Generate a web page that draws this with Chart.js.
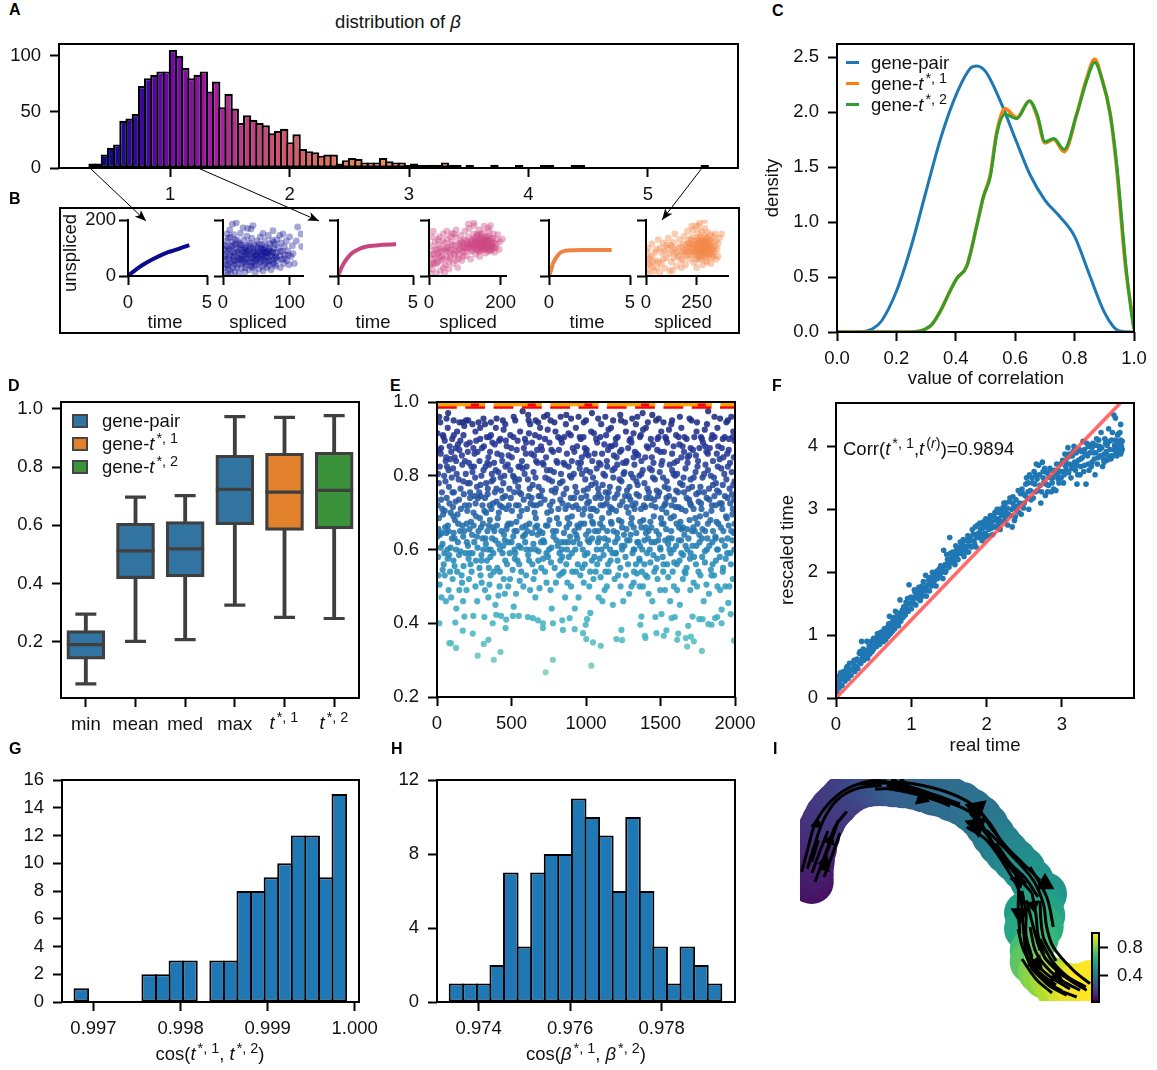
<!DOCTYPE html>
<html>
<head>
<meta charset="utf-8">
<script src="https://cdn.jsdelivr.net/npm/chart.js@4"></script>
<style>
  html, body { margin: 0; background: #fff; }
  #page { position: relative; width: 1157px; height: 1070px; overflow: hidden; font-family: "Liberation Sans", Arial, sans-serif; color: #111; }
  canvas { position: absolute; }
  .t { position: absolute; white-space: nowrap; font-size: 18.5px; line-height: 1; transform: translate(-50%, -50%); }
  .t.left { transform: translate(0, -50%); }
  .t.rot { transform: translate(-50%, -50%) rotate(-90deg); }
  .t.letter { font-weight: bold; font-size: 16px; transform: translate(0, -50%); color: #000; }
  .t sup { font-size: 78%; line-height: 0; vertical-align: baseline; position: relative; top: -0.5em; margin-left: 2px; }
  .swatch { position: absolute; }
  #frameB { position: absolute; left: 59px; top: 207px; width: 677px; height: 123px; border: 2px solid #000; }
  svg { position: absolute; left: 0; top: 0; }
</style>
</head>
<body>
<div id="page">
  <div id="frameB"></div>
</div>
<script>
// ---- panel A
const betaBinStart = 0.325;
const betaBinWidth = 0.05176;
const betaCounts = [4,4,12,18,21,42,44,48,73,80,83,86,86,105,100,89,80,83,86,68,
  77,54,66,53,40,47,43,40,38,31,33,35,23,30,17,15,14,11,12,12,
  4,7,9,8,5,5,5,9,6,5,5,1,4,1,1,3,1,5,3,1,
  0,1,0,0,0,3,0,0,0,1,0,0,0,1,1,0,0,0,1,1,
  0,0,0,0,0,0,0,0,0,0,0,0,0,0,0,0,0,0,0,1];
const betaTicks = [1,2,3,4,5];
const betaCountTicks = [0,50,100];

// ---- panel B
const time1 = [0,0.5,1,1.5,2,2.5,3,3.5,3.88];
const unspliced1 = [0,23,42,58,72,84,93,103,110];
const time2 = [0,0.25,0.5,0.75,1,1.5,2,2.5,3,3.87];
const unspliced2 = [0,32,55,72,84,99,106,109,112,113];
const time3 = [0,0.1,0.25,0.5,0.75,1,1.5,2,3,3.87];
const unspliced3 = [0,15,45,70,85,90,92,93,93,93];
const cloud1 = [[3,12],[5,40],[4,78],[6,105],[8,25],[9,62],[8,135],[10,165],[12,8],[13,48],[12,92],[14,120],[15,30],[16,70],[16,148],[18,15],[19,55],[20,100],[21,128],[22,40],[23,82],[24,10],[25,62],[26,112],[26,152],[28,28],[29,92],[30,50],[31,128],[32,72],[33,14],[34,105],[35,40],[36,142],[37,62],[38,88],[39,22],[40,118],[41,48],[42,76],[43,135],[44,30],[45,98],[46,60],[47,112],[48,12],[49,80],[50,40],[51,125],[52,65],[53,100],[54,25],[55,85],[56,140],[57,52],[58,110],[59,72],[60,18],[61,92],[62,42],[63,125],[64,68],[65,105],[66,30],[67,82],[68,145],[69,55],[70,115],[71,90],[72,22],[73,70],[74,128],[75,45],[76,98],[77,62],[78,112],[79,35],[80,82],[81,130],[82,55],[83,100],[85,72],[86,30],[87,118],[88,60],[89,88],[90,150],[91,45],[92,105],[93,75],[95,125],[96,55],[97,90],[99,40],[100,140],[102,70],[104,108],[105,80],[107,45],[110,125],[112,175],[117,150],[118,105],[20,190],[37,170],[42,168],[60,152],[45,180],[75,162],[14,185],[30,172],[85,145],[6,150],[2,95],[2,60],[2,30],[7,4],[11,140],[18,80],[27,75],[33,50],[47,35],[58,95],[67,50],[6,88],[10,72],[15,108],[22,65],[28,110],[35,85],[41,102],[48,52],[55,115],[62,85],[69,100],[76,120],
  [4,55],[7,38],[9,95],[11,22],[13,70],[15,85],[17,42],[19,112],[21,30],[23,58],[25,95],[27,45],[29,70],[31,100],[33,30],[34,62],[36,78],[38,50],[40,95],[42,35],[43,65],[45,85],[47,72],[49,105],[50,58],[52,90],[54,48],[56,72],[57,100],[59,35],[60,60],[62,100],[64,52],[65,82],[67,68],[69,38],[71,75],[73,55],[75,85],[77,42],[79,70],[64,85],[58,80],[52,78],[46,88],[40,72],[34,92],[28,58],[22,88],[16,55],[10,48],[3,70],[3,110],[5,125],[12,108],[24,118],[18,130],[32,85],[38,110],[44,50],[50,72],[56,60],[62,70],[68,90],[74,85],[80,65],[86,88],[92,62],[98,75]];
const cloud2 = [[3,10],[4,40],[5,75],[6,108],[10,25],[12,60],[15,92],[17,122],[20,8],[22,45],[24,78],[26,110],[28,140],[32,20],[34,55],[36,90],[38,125],[40,150],[44,12],[46,38],[48,70],[50,100],[52,132],[56,25],[58,62],[60,92],[62,120],[64,152],[68,45],[70,80],[72,108],[74,138],[76,165],[80,30],[82,62],[84,95],[86,118],[88,145],[92,55],[94,85],[96,108],[98,130],[100,160],[104,72],[106,98],[108,118],[110,140],[112,170],[116,60],[118,88],[120,105],[122,125],[124,150],[126,180],[130,78],[132,96],[134,112],[136,128],[138,145],[140,165],[142,70],[144,90],[146,105],[148,120],[150,135],[152,155],[154,178],[158,82],[160,98],[162,112],[164,125],[166,142],[168,160],[172,90],[174,105],[176,118],[178,135],[180,150],[184,85],[186,102],[188,115],[190,130],[192,148],[196,95],[198,122],[205,132],[110,185],[125,190],[165,172],[172,180],[130,110],[135,100],[140,118],[145,130],[150,110],[155,120],[160,130],[128,122],[122,105],[118,128],[138,88],[148,95],[158,140],[168,105],[178,100],[115,112],[125,135],[135,150],[145,150],[155,100],[165,88],[175,125],[60,140],[70,150],[55,50],[85,75],[95,70],[105,125],[30,70],[25,130],[15,45],[8,140],[12,160],[42,95],[50,160],[90,125],[100,100],[40,30],[75,55],
  [112,100],[116,118],[120,92],[124,112],[127,100],[129,130],[132,118],[134,142],[136,92],[138,108],[140,130],[142,100],[144,120],[146,140],[148,108],[150,125],[152,95],[154,112],[156,130],[158,100],[160,118],[162,138],[164,108],[166,95],[168,125],[170,112],[172,135],[174,92],[176,108],[180,118],[182,100],[110,108],[106,115],[102,88],[98,100],[94,118],[90,105],[86,95],[80,115],[76,90],[72,75],[68,95],[64,110],[60,70],[56,85],[52,105],[48,90],[44,118],[40,60],[36,70],[32,100],[28,85],[24,50],[20,95],[18,65],[12,80],[8,45]];
const cloud3 = [[5,20],[8,60],[10,100],[15,8],[22,40],[28,72],[30,115],[40,18],[48,55],[52,95],[60,130],[68,12],[75,45],[80,82],[85,118],[92,28],[100,65],[105,100],[110,135],[118,18],[125,50],[130,85],[135,120],[142,150],[150,35],[155,70],[160,100],[165,130],[172,55],[178,85],[182,115],[188,142],[195,40],[200,72],[205,102],[210,128],[215,60],[220,88],[225,112],[228,140],[232,165],[236,48],[240,75],[244,95],[248,115],[252,135],[255,155],[258,180],[262,60],[265,82],[268,100],[270,118],[272,138],[275,160],[278,70],[280,90],[283,108],[286,125],[288,145],[290,170],[294,55],[296,78],[298,98],[300,115],[302,135],[305,155],[308,75],[310,92],[313,110],[316,128],[318,148],[322,65],[325,88],[328,105],[330,122],[333,142],[338,85],[342,105],[345,125],[350,95],[355,115],[362,135],[372,150],[205,160],[225,178],[245,178],[265,190],[288,198],[240,125],[250,90],[260,120],[270,85],[280,125],[290,105],[300,85],[310,130],[275,105],[285,75],[295,135],[265,140],[255,100],[245,60],[235,100],[225,75],[215,115],[255,70],[270,60],[315,80],[330,70],[120,110],[140,95],[90,90],[70,100],[55,30],[35,50],[175,30],[130,20],[190,95],[340,150],[355,70],[320,45],[280,40],[250,30],[300,50],[345,60],
  [242,105],[246,85],[250,110],[254,128],[258,92],[260,75],[262,108],[264,125],[266,92],[268,70],[272,110],[274,95],[276,125],[278,85],[280,110],[282,95],[284,118],[286,85],[288,105],[290,125],[292,92],[294,112],[296,70],[298,125],[302,100],[304,80],[306,115],[310,105],[314,95],[318,118],[322,100],[326,78],[332,95],[238,85],[232,115],[228,95],[222,130],[218,100],[212,80],[208,118],[202,90],[196,110],[192,78],[186,90],[180,60],[170,105],[162,75],[148,85],[138,65],[128,105],[115,80],[100,110],[85,60],[62,50],[45,85],[30,30],[20,65],[12,45],[6,85]];

// ---- panel C
const corrXPair = [0,0.05,0.1,0.12,0.15,0.2,0.25,0.3,0.35,0.4,0.45,0.47,0.5,0.55,0.6,0.65,0.7,0.75,0.8,0.85,0.9,0.93,0.95,1];
const corrPair = [0,0,0.01,0.03,0.1,0.37,0.78,1.28,1.77,2.15,2.4,2.42,2.37,2.1,1.76,1.43,1.2,1.05,0.87,0.52,0.18,0.05,0.01,0];
const corrXTime = [0,0.2,0.25,0.28,0.3,0.32,0.35,0.38,0.404,0.437,0.47,0.493,0.516,0.538,0.566,0.605,0.648,0.675,0.7,0.73,0.765,0.807,0.84,0.868,0.89,0.92,0.942,0.972,0.998,1];
const corrTime1 = [0,0,0,0.01,0.03,0.07,0.2,0.37,0.49,0.6,0.96,1.23,1.43,1.82,2.03,1.95,2.1,1.95,1.72,1.75,1.64,1.98,2.3,2.48,2.32,1.98,1.48,0.58,0.08,0.03];
const corrTime2 = [0,0,0,0.01,0.03,0.07,0.2,0.37,0.49,0.6,0.96,1.23,1.41,1.8,1.98,1.94,2.1,1.97,1.73,1.76,1.66,1.98,2.28,2.45,2.32,1.98,1.52,0.62,0.05,0.03];
const corrTicks = [0,0.2,0.4,0.6,0.8,1];
const densityTicks = [0,0.5,1,1.5,2,2.5];

// ---- panel D
const boxLabels = ['min','mean','med','max','t1','t2'];
const boxLow = [0.055,0.201,0.207,0.326,0.284,0.28];
const boxQ1 = [0.14,0.417,0.423,0.602,0.583,0.588];
const boxMedian = [0.19,0.512,0.519,0.724,0.714,0.72];
const boxQ3 = [0.238,0.607,0.613,0.841,0.848,0.851];
const boxHigh = [0.295,0.697,0.702,0.974,0.971,0.977];
const boxColors = ['#3274a1','#3274a1','#3274a1','#3274a1','#e1812c','#3a923a'];
const boxTicks = [0.2,0.4,0.6,0.8,1];

// ---- panel E
const corrPoints = [[16,.40],[83,.346],[94,.346],[128,.333],[273,.312],[381,.301],[426,.322],[345,.355],[314,.344],[729,.267],[778,.301],[1036,.285],[1099,.339],[1047,.348],[1002,.357],[980,.373],[1238,.382],[1204,.357],[1242,.354],[1395,.366],[1399,.36],[1473,.373],[1522,.366],[1540,.381],[1612,.355],[1619,.372],[1670,.36],[1679,.337],[1704,.364],[1724,.351],[1778,.325],[1993,.353],
[184,.418],[244,.42],[240,.372],[173,.38],[123,.402],[318,.417],[374,.4],[397,.423],[430,.42],[464,.41],[509,.42],[460,.387],[549,.42],[610,.417],[643,.414],[677,.408],[711,.4],[711,.387],[778,.4],[841,.408],[890,.414],[845,.382],[924,.384],[998,.396],[1007,.411],[1029,.428],[1372,.418],[1365,.396],[1466,.417],[1507,.425],[1574,.414],[1596,.417],[1686,.393],[1715,.418],[1760,.411],[1782,.411],[1821,.398],[1843,.396],[1866,.414],[1881,.417],[1910,.4],[1971,.425],[1955,.455],[1910,.437],
[10,.53],[30,.47],[60,.46],[95,.47],[130,.44],[150,.49],[175,.46],[215,.52],[270,.46],[300,.51],[345,.47],[360,.53],[392,.45],[420,.5],[455,.48],[490,.52],[515,.445],[530,.48],[580,.5],[625,.49],[660,.47],[735,.51],[770,.44],[820,.53],[860,.47],[900,.5],[925,.44],[950,.47],[985,.51],[1050,.52],[1085,.47],[1110,.46],[1140,.5],[1180,.45],[1215,.53],[1250,.46],[1290,.48],[1320,.51],[1360,.5],[1400,.53],[1420,.48],[1445,.46],[1480,.52],[1530,.49],[1565,.46],[1590,.5],[1630,.45],[1650,.52],[1700,.49],[1745,.5],[1790,.46],[1825,.48],[1860,.53],[1900,.49],[1935,.5],[1985,.52],
[8,.58],[45,.56],[70,.6],[88,.54],[110,.57],[140,.62],[165,.53],[190,.59],[225,.56],[250,.62],[285,.55],[310,.6],[335,.57],[370,.63],[405,.55],[440,.59],[470,.56],[500,.62],[540,.57],[565,.54],[600,.6],[640,.56],[675,.64],[700,.55],[745,.58],[790,.55],[810,.61],[850,.54],[885,.58],[915,.62],[945,.56],[975,.55],[1010,.59],[1040,.63],[1075,.56],[1105,.6],[1130,.54],[1165,.57],[1195,.62],[1230,.55],[1265,.58],[1300,.64],[1335,.56],[1375,.54],[1410,.59],[1440,.62],[1470,.55],[1500,.6],[1545,.56],[1575,.63],[1610,.56],[1640,.59],[1675,.55],[1715,.61],[1755,.54],[1780,.58],[1815,.63],[1850,.56],[1885,.6],[1920,.55],[1950,.63],[1995,.6],
[20,.64],[55,.66],[100,.63],[120,.68],[155,.65],[200,.67],[235,.64],[262,.69],[295,.66],[325,.63],[355,.68],[385,.65],[415,.7],[450,.64],[480,.67],[520,.65],[555,.69],[590,.64],[620,.67],[655,.7],[690,.65],[720,.62],[755,.68],[800,.65],[835,.62],[870,.66],[905,.69],[935,.64],[965,.67],[1000,.64],[1030,.69],[1060,.65],[1095,.67],[1125,.63],[1155,.7],[1185,.65],[1220,.68],[1255,.64],[1285,.7],[1320,.66],[1350,.62],[1385,.68],[1420,.65],[1455,.69],[1490,.64],[1520,.67],[1555,.63],[1590,.69],[1625,.66],[1660,.64],[1695,.68],[1730,.65],[1765,.69],[1800,.65],[1835,.68],[1870,.63],[1905,.66],[1940,.69],[1975,.65],[1998,.67],
[5,.72],[35,.71],[65,.74],[92,.7],[125,.73],[160,.71],[180,.75],[215,.72],[245,.7],[275,.74],[305,.72],[340,.75],[365,.71],[400,.73],[430,.76],[465,.71],[495,.74],[530,.72],[565,.75],[605,.71],[635,.74],[670,.72],[705,.76],[740,.7],[775,.73],[815,.71],[850,.75],[880,.72],[920,.74],[950,.71],[985,.76],[1020,.73],[1050,.71],[1085,.75],[1115,.72],[1145,.74],[1175,.71],[1210,.75],[1245,.73],[1275,.76],[1310,.72],[1340,.75],[1370,.71],[1405,.74],[1440,.72],[1475,.76],[1510,.71],[1540,.74],[1575,.72],[1605,.76],[1640,.71],[1675,.74],[1705,.72],[1740,.75],[1775,.71],[1810,.74],[1845,.72],[1880,.76],[1915,.71],[1950,.74],[1985,.71],
[12,.78],[48,.8],[80,.77],[108,.82],[145,.79],[170,.83],[205,.78],[238,.81],[268,.77],[298,.8],[330,.78],[350,.83],[378,.79],[412,.81],[445,.78],[475,.83],[510,.8],[545,.77],[575,.82],[610,.79],[648,.81],[682,.77],[715,.83],[750,.79],[785,.81],[825,.78],[858,.83],[892,.8],[928,.77],[958,.82],[995,.79],[1028,.81],[1065,.78],[1098,.83],[1128,.8],[1160,.77],[1192,.82],[1225,.79],[1258,.81],[1292,.77],[1325,.83],[1358,.8],[1392,.78],[1428,.82],[1462,.79],[1495,.81],[1528,.77],[1562,.83],[1598,.8],[1632,.78],[1668,.82],[1702,.79],[1735,.81],[1768,.77],[1802,.83],[1838,.8],[1872,.78],[1908,.82],[1942,.79],[1978,.81],
[25,.86],[58,.84],[85,.88],[118,.85],[150,.87],[188,.84],[220,.89],[252,.86],[285,.84],[315,.88],[345,.85],[372,.89],[405,.86],[438,.84],[468,.88],[502,.85],[535,.87],[570,.84],[598,.89],[632,.86],[665,.84],[698,.88],[732,.85],[768,.87],[802,.84],[838,.89],[872,.86],[905,.84],[940,.88],[972,.85],[1005,.87],[1042,.84],[1075,.89],[1108,.86],[1140,.84],[1172,.88],[1205,.85],[1238,.87],[1272,.84],[1305,.89],[1338,.86],[1372,.84],[1408,.88],[1442,.85],[1478,.87],[1512,.84],[1545,.89],[1578,.86],[1612,.84],[1648,.88],[1682,.85],[1718,.87],[1752,.84],[1785,.89],[1818,.86],[1852,.84],[1888,.88],[1922,.85],[1958,.87],[1992,.85],
[40,.91],[72,.93],[102,.9],[135,.92],[178,.91],[210,.95],[258,.92],[290,.9],[322,.94],[362,.91],[395,.93],[425,.9],[458,.94],[492,.91],[525,.95],[558,.92],[590,.9],[625,.94],[658,.91],[692,.93],[725,.9],[762,.95],[795,.92],[830,.9],[865,.94],[898,.91],[932,.93],[965,.9],[1000,.95],[1035,.92],[1068,.9],[1102,.94],[1135,.91],[1168,.93],[1200,.9],[1235,.95],[1268,.92],[1300,.9],[1335,.94],[1368,.91],[1402,.93],[1435,.9],[1470,.95],[1505,.92],[1538,.9],[1572,.94],[1605,.91],[1640,.93],[1675,.9],[1708,.95],[1742,.92],[1778,.9],[1812,.94],[1848,.91],[1882,.93],[1918,.9],[1952,.95],[1988,.92],
[15,.96],[75,.97],[150,.945],[195,.95],[290,.93],[400,.955],[575,.975],[615,.95],[680,.945],[740,.965],[830,.96],[900,.955],[950,.96],[1040,.97],[1130,.96],[1230,.965],[1310,.955],[1380,.97],[1445,.965],[1520,.945],[1630,.96],[1820,.975],[1900,.955],[1975,.96]];
const corrPointsMore = [[3,.915],[28,.875],[52,.895],[67,.825],[96,.865],[113,.91],[141,.885],[167,.855],[183,.935],[207,.865],[231,.825],[263,.895],[279,.945],[302,.875],[326,.825],[351,.905],[383,.835],[417,.895],[447,.925],[481,.855],[513,.905],[547,.825],[583,.875],[617,.915],[651,.855],[687,.905],[709,.835],[743,.925],[779,.865],[813,.905],[849,.835],[883,.915],[911,.875],[947,.835],[983,.905],[1017,.855],[1053,.915],[1087,.835],[1123,.885],[1151,.925],[1187,.855],[1213,.905],[1249,.835],[1283,.875],[1319,.915],[1351,.855],[1383,.925],[1417,.875],[1453,.835],[1487,.905],[1523,.865],[1557,.925],[1593,.835],[1627,.885],[1661,.905],[1693,.855],[1727,.905],[1761,.875],[1797,.925],[1831,.875],[1863,.905],[1897,.845],[1931,.905],[1967,.835],[1996,.895],
[7,.805],[33,.755],[57,.785],[78,.815],[104,.755],[132,.805],[158,.765],[193,.805],[222,.755],[256,.795],[283,.755],[312,.815],[341,.765],[368,.805],[399,.765],[427,.795],[459,.825],[486,.765],[518,.795],[552,.755],[588,.805],[622,.765],[661,.795],[696,.745],[727,.795],[762,.815],[797,.765],[832,.805],[868,.765],[902,.795],[937,.755],[973,.805],[1012,.765],[1047,.795],[1082,.765],[1117,.805],[1152,.755],[1183,.795],[1219,.765],[1252,.805],[1287,.745],[1316,.795],[1347,.775],[1381,.815],[1413,.765],[1449,.795],[1484,.745],[1517,.795],[1552,.765],[1587,.805],[1618,.755],[1655,.795],[1688,.765],[1723,.795],[1757,.755],[1793,.805],[1826,.765],[1859,.795],[1893,.755],[1928,.805],[1964,.765],[1997,.785],
[13,.685],[41,.695],[73,.665],[107,.715],[138,.695],[171,.665],[203,.705],[228,.675],[259,.725],[288,.685],[318,.705],[347,.665],[376,.725],[408,.685],[437,.715],[472,.665],[503,.705],[533,.675],[568,.705],[597,.665],[628,.725],[663,.685],[695,.725],[731,.665],[766,.705],[805,.685],[842,.725],[877,.685],[912,.715],[942,.665],[978,.695],[1008,.725],[1042,.675],[1072,.705],[1108,.685],[1138,.725],[1168,.675],[1202,.705],[1238,.675],[1272,.715],[1307,.685],[1332,.725],[1364,.675],[1398,.715],[1432,.675],[1468,.715],[1503,.685],[1534,.725],[1568,.685],[1602,.715],[1634,.675],[1668,.705],[1699,.725],[1733,.685],[1772,.725],[1806,.695],[1842,.705],[1876,.675],[1911,.725],[1945,.685],[1982,.695],
[3,.635],[37,.615],[63,.645],[91,.605],[118,.63],[148,.585],[176,.635],[208,.61],[238,.59],[268,.635],[298,.585],[328,.615],[358,.58],[392,.625],[422,.6],[455,.625],[488,.59],[512,.635],[548,.61],[578,.635],[612,.585],[647,.615],[682,.595],[712,.625],[752,.6],[782,.635],[822,.59],[858,.62],[893,.635],[928,.6],[958,.615],[992,.585],[1022,.62],[1056,.58],[1088,.63],[1118,.585],[1148,.625],[1178,.59],[1212,.63],[1242,.6],[1276,.625],[1312,.59],[1344,.62],[1378,.6],[1416,.63],[1452,.585],[1485,.625],[1515,.58],[1552,.615],[1588,.6],[1622,.625],[1652,.585],[1688,.63],[1725,.58],[1762,.62],[1798,.595],[1828,.61],[1868,.635],[1898,.58],[1932,.61],[1968,.59],
[18,.505],[52,.53],[78,.49],[105,.52],[135,.54],[168,.51],[198,.49],[232,.54],[258,.5],[292,.53],[322,.49],[352,.505],[382,.54],[412,.475],[448,.52],[478,.5],[508,.545],[555,.515],[598,.53],[648,.52],[688,.495],[725,.54],[762,.49],[798,.51],[838,.535],[875,.51],[908,.54],[962,.53],[1022,.5],[1065,.54],[1098,.525],[1125,.49],[1152,.54],[1192,.52],[1232,.5],[1268,.53],[1305,.5],[1342,.535],[1382,.5],[1412,.525],[1458,.54],[1498,.49],[1552,.525],[1582,.54],[1612,.49],[1668,.535],[1722,.51],[1768,.53],[1808,.505],[1842,.53],[1882,.5],[1918,.54],[1962,.5],
[22,.945],[64,.955],[112,.95],[172,.945],[238,.94],[312,.955],[362,.945],[442,.95],[515,.96],[612,.965],[662,.95],[718,.96],[788,.945],[868,.965],[985,.945],[1082,.955],[1182,.95],[1262,.945],[1345,.96],[1415,.945],[1488,.955],[1578,.95],[1695,.955],[1745,.945],[1862,.96],[1942,.945],
[220,.78],[440,.74],[660,.66],[880,.62],[1100,.74],[1320,.6],[1540,.7],[1760,.64],[1980,.75],[110,.69],[330,.7],[550,.79],[770,.76],[990,.71],[1210,.83],[1430,.74],[1650,.66],[1870,.72],[1000,.86],[1160,.88],[1320,.85],[1480,.9],[1640,.85],[1800,.88],[1960,.9],[1080,.62],[1240,.61],[1400,.66],[1560,.6],[1720,.66],[1880,.6],[200,.62],[360,.6],[520,.6],[680,.57],[840,.58],[1040,.57],[1200,.59],[1360,.57],[1520,.56],[1680,.6]];
const corrPointsDense = [[14,.87],[44,.905],[89,.845],[126,.875],[157,.895],[198,.885],[244,.875],[272,.865],[334,.905],[356,.865],[388,.885],[433,.855],[462,.895],[498,.875],[541,.895],[596,.86],[638,.89],[672,.87],[704,.87],[755,.89],[818,.87],[854,.905],[922,.865],[958,.905],[992,.875],[1058,.86],[1096,.905],[1148,.87],[1196,.885],[1228,.865],[1292,.895],[1328,.865],[1362,.905],[1398,.85],[1448,.885],[1498,.865],[1532,.905],[1588,.88],[1622,.905],[1658,.865],[1702,.875],[1738,.855],[1772,.905],[1808,.865],[1842,.9],[1878,.86],[1912,.875],[1948,.86],[1984,.905],
[19,.825],[62,.85],[99,.795],[128,.84],[176,.785],[214,.835],[248,.825],[292,.775],[338,.835],[366,.785],[394,.815],[452,.8],[492,.815],[526,.785],[558,.825],[602,.825],[642,.775],[674,.835],[738,.815],[772,.785],[808,.835],[842,.785],[884,.825],[918,.805],[966,.835],[1002,.815],[1036,.775],[1072,.82],[1112,.775],[1142,.825],[1178,.815],[1238,.785],[1268,.835],[1302,.805],[1338,.785],[1372,.805],[1442,.815],[1506,.83],[1542,.785],[1578,.815],[1612,.805],[1648,.775],[1682,.835],[1712,.77],[1748,.825],[1782,.795],[1818,.815],[1852,.775],[1884,.825],[1918,.775],[1952,.825],[1988,.775],
[27,.735],[52,.705],[84,.725],[114,.755],[148,.735],[188,.72],[222,.74],[252,.745],[292,.745],[322,.74],[354,.72],[388,.755],[422,.72],[458,.745],[482,.72],[518,.755],[548,.72],[582,.735],[614,.745],[648,.72],[682,.745],[722,.735],[758,.72],[792,.755],[828,.735],[862,.71],[898,.74],[934,.72],[968,.74],[1002,.745],[1032,.71],[1064,.74],[1098,.72],[1132,.755],[1162,.715],[1192,.74],[1228,.72],[1262,.745],[1298,.735],[1326,.71],[1356,.745],[1388,.72],[1422,.755],[1458,.735],[1492,.755],[1526,.72],[1558,.745],[1592,.735],[1622,.715],[1658,.755],[1692,.735],[1722,.71],[1756,.73],[1792,.755],[1828,.735],[1862,.745],[1898,.725],[1932,.745],[1968,.725],[1994,.735],
[10,.655],[32,.645],[78,.65],[112,.645],[142,.67],[183,.65],[218,.655],[246,.665],[278,.65],[308,.67],[338,.65],[372,.66],[402,.665],[432,.65],[466,.655],[498,.67],[535,.65],[572,.66],[606,.65],[638,.645],[672,.665],[708,.645],[742,.665],[778,.65],[818,.67],[852,.645],[888,.67],[922,.65],[952,.66],[988,.67],[1018,.65],[1048,.67],[1082,.65],[1112,.66],[1142,.65],[1172,.67],[1208,.645],[1242,.66],[1272,.655],[1302,.67],[1338,.645],[1372,.66],[1402,.645],[1438,.66],[1472,.65],[1508,.67],[1538,.655],[1572,.65],[1608,.67],[1642,.655],[1678,.655],[1712,.65],[1748,.67],[1782,.655],[1818,.67],[1852,.65],[1888,.67],[1922,.65],[1958,.665],[1992,.645],
[25,.605],[50,.59],[82,.585],[128,.6],[158,.595],[218,.59],[272,.605],[305,.63],[342,.6],[378,.59],[412,.615],[445,.61],[478,.62],[525,.59],[562,.605],[592,.62],[628,.6],[662,.6],[698,.62],[735,.59],[768,.605],[802,.625],[838,.6],[872,.6],[905,.59],[942,.63],[978,.6],[1012,.625],[1072,.6],[1135,.61],[1162,.6],[1198,.59],[1258,.61],[1292,.625],[1325,.6],[1362,.61],[1392,.625],[1428,.6],[1462,.62],[1498,.605],[1532,.625],[1568,.59],[1605,.61],[1638,.625],[1668,.61],[1702,.59],[1742,.61],[1778,.63],[1812,.6],[1848,.62],[1912,.625],[1948,.59],[1982,.625],
[38,.545],[72,.575],[118,.555],[178,.555],[212,.575],[262,.57],[298,.57],[348,.55],[422,.54],[458,.57],[522,.575],[552,.56],[618,.57],[658,.54],[712,.575],[765,.565],[828,.57],[868,.56],[932,.54],[992,.56],[1028,.54],[1092,.575],[1148,.56],[1212,.57],[1282,.56],[1322,.54],[1358,.575],[1392,.56],[1432,.565],[1478,.575],[1518,.54],[1592,.565],[1628,.57],[1662,.54],[1698,.575],[1738,.56],[1798,.565],[1838,.545],[1872,.57],[1938,.575],[1972,.56]];

// ---- panel F
const timePoints = [[.01,.1],[.02,.22],[.03,.35],[.04,.16],[.05,.28],[.06,.4],[.08,.2],[.09,.32],[.1,.42],[.12,.27],[.13,.36],[.14,.48],[.16,.31],[.17,.42],[.18,.55],[.2,.36],[.22,.47],[.23,.56],[.25,.42],[.26,.6],[.27,.5],[.29,.47],[.3,.58],[.31,.71],[.33,.55],[.34,.9],[.35,.64],[.37,.6],[.38,.76],[.39,.68],[.41,.9],[.42,.63],[.43,.72],[.45,.7],[.46,.82],[.48,.74],[.5,.78],[.51,.87],[.52,.95],[.54,.82],[.55,1.02],[.56,.9],[.58,.85],[.6,.93],[.61,1.05],[.63,.9],[.65,1.0],[.66,.93],[.68,1.12],[.69,.98],[.7,1.06],[.71,1.3],[.72,1.02],[.74,1.15],[.75,1.06],[.76,1.22],[.78,1.1],[.79,1.38],[.8,1.18],[.81,1.3],[.83,1.15],[.84,1.25],[.85,1.56],[.86,1.22],[.88,1.4],[.89,1.28],[.9,1.45],[.92,1.32],[.94,1.42],[.96,1.38],[.97,1.8],[.98,1.5],[1,1.42],[1.01,1.6],[1.03,1.5],[1.04,1.72],[1.06,1.48],[1.07,1.62],[1.09,1.58],[1.1,1.76],[1.12,1.55],[1.13,1.68],[1.15,1.62],[1.16,1.85],[1.18,1.7],[1.19,1.95],[1.2,1.62],[1.22,1.8],[1.24,1.7],[1.25,1.92],[1.27,1.78],[1.28,2.0],[1.3,1.85],[1.32,1.95],[1.33,1.78],[1.35,1.9],[1.37,2.05],[1.38,1.95],[1.4,2.0],[1.42,1.9],[1.43,2.35],[1.44,2.1],[1.46,2.02],[1.48,2.2],[1.5,2.08],[1.51,2.55],[1.52,2.3],[1.54,2.15],[1.56,2.25],[1.58,2.12],[1.6,2.35],[1.62,2.2],[1.64,2.4],[1.66,2.3],[1.68,2.45],[1.7,2.25],[1.72,2.38],[1.74,2.5],[1.76,2.32],[1.78,2.55],[1.8,2.4],[1.82,2.6],[1.84,2.45],[1.86,2.4],[1.88,2.75],[1.9,2.55],[1.92,2.68],[1.94,2.5],[1.96,2.8],[1.98,2.62],[2,2.72],[2.02,2.58],[2.04,2.85],[2.06,2.7],[2.08,2.6],[2.1,2.88],[2.12,2.72],[2.14,3.0],[2.16,2.85],[2.18,2.68],[2.2,2.9],[2.22,3.03],[2.24,2.82],[2.26,2.95],[2.28,2.75],[2.3,3.12],[2.32,2.9],[2.34,2.72],[2.36,3.03],[2.38,2.88],[2.4,2.98],[2.42,3.3],[2.44,3.1],[2.46,2.92],[2.48,3.25],[2.5,3.1],[2.52,3.4],[2.54,3.18],[2.56,3.0],[2.58,3.3],[2.6,3.5],[2.62,3.18],[2.64,3.4],[2.66,3.72],[2.68,3.3],[2.7,3.55],[2.72,3.1],[2.74,3.75],[2.76,3.42],[2.78,3.22],[2.8,3.58],[2.82,3.38],[2.84,3.65],[2.86,3.28],[2.88,3.5],[2.9,3.62],[2.92,3.3],[2.94,3.55],[2.96,3.42],[2.98,3.72],[3,3.6],[3.02,3.42],[3.04,3.88],[3.06,3.62],[3.08,3.98],[3.1,3.72],[3.12,3.5],[3.14,3.85],[3.16,4.0],[3.18,3.62],[3.2,3.4],[3.22,3.78],[3.24,3.55],[3.26,3.92],[3.28,4.08],[3.3,3.7],[3.32,3.4],[3.34,3.85],[3.36,3.62],[3.38,4.02],[3.4,3.75],[3.42,3.9],[3.44,3.55],[3.46,4.12],[3.48,3.82],[3.5,3.95],[3.52,4.22],[3.54,3.68],[3.56,3.88],[3.58,4.05],[3.6,3.78],[3.62,4.28],[3.64,3.95],[3.66,4.1],[3.68,3.85],[3.7,4.02],[3.71,4.45],[3.72,3.9],[3.74,4.18],[3.75,4.05],[3.76,3.92],[3.77,4.22],[3.78,4.35],[3.79,4.0],[3.8,3.95],[3.8,4.08],[3.78,3.88],[3.74,3.98],[3.69,4.5],[3.66,3.85],[3.6,4.02],[3.56,3.75],[3.5,4.0],[3.45,3.9],[3.4,3.98],[3.35,4.0],[3.3,3.95],[3.25,3.8],[3.2,3.7],[3.15,3.7],[3.1,3.88],[3.05,3.75],[2.95,3.62],[2.85,3.5],[2.75,3.6],[2.65,3.55],[2.55,3.42],[2.45,3.25],[2.35,3.2],[2.25,3.1],[2.15,2.95],[2.05,2.75],[1.95,2.7],[1.85,2.6],[1.75,2.42],[1.65,2.38],[1.55,2.2],[1.45,2.12],[1.35,2.0],[1.25,1.85],[1.15,1.75],[1.05,1.6],[.95,1.5],[.85,1.35],[.75,1.22],[.65,1.08],[.55,.93],[.45,.78],[.35,.7],[.25,.5],[.15,.38],
[.03,.25],[.07,.33],[.11,.36],[.15,.5],[.19,.45],[.24,.6],[.28,.62],[.32,.74],[.36,.78],[.4,.75],[.44,.82],[.47,.9],[.5,.95],[.53,.9],[.57,1.0],[.59,1.04],[.62,.98],[.64,1.1],[.67,1.06],[.7,1.18],[.73,1.12],[.77,1.28],[.79,1.2],[.82,1.22],[.85,1.3],[.87,1.32],[.91,1.38],[.93,1.52],[.95,1.58],[.99,1.6],[1.02,1.55],[1.05,1.68],[1.08,1.7],[1.11,1.66],[1.14,1.78],[1.17,1.76],[1.21,1.72],[1.23,1.88],[1.26,1.82],[1.29,1.92],[1.31,1.88],[1.34,2.02],[1.36,1.95],[1.39,2.1],[1.41,2.05],[1.45,2.0],[1.47,2.28],[1.49,2.15],[1.53,2.22],[1.55,2.32],[1.57,2.18],[1.59,2.42],[1.61,2.28],[1.63,2.32],[1.65,2.48],[1.67,2.36],[1.69,2.52],[1.71,2.4],[1.73,2.32],[1.75,2.58],[1.77,2.42],[1.79,2.5],[1.81,2.68],[1.83,2.5],[1.85,2.72],[1.87,2.55],[1.89,2.62],[1.91,2.78],[1.93,2.6],[1.95,2.76],[1.97,2.55],[1.99,2.85],[2.01,2.78],[2.03,2.68],[2.05,2.9],[2.07,2.8],[2.09,2.72],[2.11,2.95],[2.13,2.82],[2.15,2.75],[2.17,3.0],[2.19,2.8],[2.21,2.95],[2.23,3.1],[2.25,2.88],[2.27,3.02],[2.29,2.92],[2.31,3.18],[2.33,3.0],[2.35,3.1],[2.37,2.82],[2.39,3.15],[2.41,3.05],[2.43,2.95],[2.47,3.32],[2.49,3.02],[2.51,3.22],[2.53,3.5],[2.55,3.28],[2.57,3.55],[2.59,3.15],[2.61,3.42],[2.63,3.6],[2.65,3.28],[2.67,3.48],[2.69,3.7],[2.71,3.38],[2.73,3.28],[2.75,3.5],[2.77,3.65],[2.79,3.4],[2.81,3.28],[2.83,3.52],[2.85,3.62],[2.87,3.42],[2.89,3.32],[2.91,3.55],[2.93,3.72],[2.95,3.48],[2.97,3.6],[2.99,3.5],[3.01,3.78],[3.03,3.55],[3.05,3.68],[3.07,3.82],[3.09,3.58],[3.11,3.85],[3.13,3.65],[3.15,3.92],[3.17,3.75],[3.19,3.9],[3.21,3.55],[3.23,3.95],[3.25,3.68],[3.27,3.82],[3.29,3.6],[3.31,3.88],[3.33,4.05],[3.35,3.72],[3.37,3.9],[3.39,3.68],[3.41,4.05],[3.43,3.8],[3.45,4.02],[3.47,3.72],[3.49,4.1],[3.51,3.85],[3.53,3.98],[3.55,3.8],[3.57,4.12],[3.59,3.92],[3.61,3.85],[3.63,4.08],[3.65,3.8],[3.67,4.22],[3.69,3.95],[3.71,4.1],[3.73,3.85],[3.75,4.2],[3.77,3.98],[3.78,4.1],[3.79,3.92]];
const identityX = [0,3.8];
const identityY = [0,4.72];

// ---- panels G and H
const cosTimeStart = 0.996782;
const cosTimeWidth = 0.000156;
const cosTimeCounts = [1,0,0,0,0,2,2,3,3,0,3,3,8,8,9,10,12,12,9,15];
const cosTimeTicks = [0.997,0.998,0.999,1];
const cosTimeCountTicks = [0,2,4,6,8,10,12,14,16];
const cosBetaStart = 0.973365;
const cosBetaWidth = 0.000297;
const cosBetaCounts = [1,1,1,2,7,3,7,8,8,11,10,9,6,10,6,3,1,3,2,1];
const cosBetaTicks = [0.974,0.976,0.978];
const cosBetaCountTicks = [0,4,8,12];

// ---- panel I
const umapX = [11.7,11.7,11.7,12.7,13.3,15,16,18.3,20,23.3,26.7,31.7,36.7,43.3,50,58.3,66.7,75,83.3,93.3,103.3,113.3,123.3,133.3,141.7,151.7,161.7,171.7,180,186.7,193.3,200,206.7,215,223.3,231.7,245,238.3,241.7,226,232,243.3,226,228,241.7,236.7,231.7,231.7,240,245,251.7,258,263.3,270,276.7,290];
const umapY = [119,125.7,132.3,139,145.7,152.3,159,165.7,172.3,179,185.7,192.3,197.3,204,209,213.3,215.7,216.7,216.7,215.7,214.7,213.3,210.7,207.3,205.7,201.3,197.3,190.7,184,175.7,165.7,156.7,149,140.7,132.3,120.7,107,109,97.3,88,90,85.7,72,75,74,62.3,50.7,39,29,24,22.3,12,17.3,8,15.7,19];
const umapT = [.05,.06,.07,.08,.09,.1,.11,.12,.13,.14,.15,.16,.17,.18,.19,.2,.22,.24,.26,.28,.3,.31,.32,.33,.34,.35,.36,.37,.38,.39,.41,.43,.45,.47,.49,.51,.52,.53,.55,.56,.57,.58,.59,.6,.62,.66,.7,.74,.8,.82,.86,.88,.92,.94,.97,1];
const streamlines = [
  [[1.7,129],[8.3,154],[15,177],[28.3,197],[46.7,212],[70,220],[86.7,220]],
  [[7.3,132.3],[15,157],[23.3,180.7],[36.7,200.7],[56.7,212.3],[81.7,215.7]],
  [[15,119],[26.7,150.7],[35,174],[46.7,189.7]],
  [[20,130.7],[30,157],[38.3,180.7]],
  [[11.7,139],[18.3,160.7]],
  [[86.7,219],[113.3,217.3],[146.7,209],[173.3,195.7],[190,177.3],[203.3,157.3],[223.3,137.3],[240,120.7]],
  [[86.7,215.7],[116.7,210.7],[143.3,200.7],[170,189],[183.3,174],[200,145.7],[216.7,124],[218.3,87.3],[220,67.3]],
  [[90,212.3],[120,205.7],[146.7,197.3]],
  [[166.7,174],[186.7,160.7],[210,127.3],[220,107.3],[223.3,74],[228.3,40.7],[246.7,17.3],[266.7,5.7]],
  [[186.7,170.7],[210,147.3],[233.3,120.7],[243.3,97.3],[246.7,74],[253.3,54],[273.3,30.7],[290,17.3]],
  [[230,134],[246.7,104],[253.3,74]],
  [[223.3,54],[233.3,30.7],[256.7,12.3],[276.7,4]],
  [[236.7,60.7],[246.7,40.7],[270,20.7],[286.7,10.7]],
  [[230,74],[236.7,47.3],[256.7,24],[280,10.7]],
  [[226.7,100.7],[233.3,74],[240,50.7]],
  [[12,128],[20,150],[28,170]],[[24,124],[33,148],[40,168]],
  [[60,217],[85,218],[110,214],[135,206],[160,197]],[[75,212],[100,212],[125,205],[150,195]],
  [[170,188],[185,170],[197,150],[212,133],[226,117]],[[176,180],[190,162],[205,140],[218,124],[232,108]],
  [[180,190],[192,172],[208,152],[225,134]],[[196,158],[210,138],[226,122],[238,104]],
  [[222,110],[226,88],[226,66],[232,44]],[[232,108],[236,86],[238,66],[244,46]],[[240,100],[241,80],[244,62],[256,40]],
  [[218,72],[224,50],[238,30],[256,16]],[[226,60],[232,42],[248,26],[270,12]],[[240,62],[252,40],[268,24],[286,14]],[[232,36],[246,20],[262,10]],[[244,44],[262,26],[282,16]],[[222,42],[236,22],[252,8]]
];
const arrowPoints = [[16.7,177],[30,160.7],[25,139],[25,134],[95,217],[103,217],[121.7,202.3],[176.7,192.3],[176.7,175.7],[218.3,120.7],[245,117.3],[220,87.3],[233.3,95.7],[236.7,37.3],[256.7,24]];
const arrowSizes = [7,7,8,7,9,8,9,13,13,9,11,11,8,10,9];
const arrowAngles = [10,20,15,15,100,100,110,170,170,160,0,180,170,140,125];
const colorbarTicks = [0.4,0.8];

const inkColor = '#111';
const tickLen = 9;
const lineW = 2;
const page = document.getElementById('page');

Chart.defaults.font.family = '"Liberation Sans", Arial, sans-serif';
Chart.defaults.font.size = 18.5;
Chart.defaults.color = inkColor;

Chart.register({
  id: 'spines',
  afterDraw(chart, args, opts) {
    const sides = opts.sides === undefined ? 'lrtb' : opts.sides;
    const { left, right, top, bottom } = chart.chartArea;
    const c = chart.ctx;
    c.save();
    c.strokeStyle = '#000';
    c.lineWidth = lineW;
    c.lineCap = 'square';
    c.beginPath();
    if (sides.includes('l')) { c.moveTo(left, top); c.lineTo(left, bottom); }
    if (sides.includes('r')) { c.moveTo(right, top); c.lineTo(right, bottom); }
    if (sides.includes('t')) { c.moveTo(left, top); c.lineTo(right, top); }
    if (sides.includes('b')) { c.moveTo(left, bottom); c.lineTo(right, bottom); }
    c.stroke();
    c.restore();
  },
});

function axis(min, max, ticks, fmt, extra) {
  return Object.assign({
    type: 'linear', min, max, offset: false, bounds: 'data',
    afterBuildTicks: (s) => { s.ticks = ticks.map((v) => ({ value: v })); },
    grid: { offset: false, drawOnChartArea: false, drawTicks: true, tickLength: tickLen, tickWidth: lineW, tickColor: '#000' },
    border: { display: false },
    ticks: { padding: 7, autoSkip: false, maxRotation: 0, minRotation: 0, color: inkColor, callback: fmt },
  }, extra || {});
}

function panel(box, config, sides, margins) {
  const m = Object.assign({ l: 56, t: 8, r: 30, b: 50, yPad: 9 }, margins || {});
  const cv = document.createElement('canvas');
  cv.width = box.r - box.l + m.l + m.r;
  cv.height = box.b - box.t + m.t + m.b;
  cv.style.left = (box.l - m.l) + 'px';
  cv.style.top = (box.t - m.t) + 'px';
  page.appendChild(cv);
  const scales = config.options.scales;
  const xShown = scales.x.display !== false;
  const yShown = scales.y.display !== false;
  const yRight = scales.y.position === 'right';
  const fit = (s) => { s.paddingLeft = s.paddingRight = s.paddingTop = s.paddingBottom = 0; };
  if (xShown) scales.x.afterFit = (s) => { s.height = m.b; fit(s); };
  if (yShown) {
    scales.y.afterFit = (s) => { s.width = yRight ? m.r : m.l; fit(s); };
    scales.y.ticks.padding = m.yPad;
  }
  config.options.responsive = false;
  config.options.animation = false;
  config.options.events = [];
  config.options.layout = { autoPadding: false, padding: {
    left: yShown && !yRight ? 0 : m.l,
    right: yShown && yRight ? 0 : m.r,
    top: m.t,
    bottom: xShown ? 0 : m.b,
  } };
  config.options.plugins = { legend: { display: false }, tooltip: { enabled: false }, spines: { sides } };
  return new Chart(cv, config);
}

function label(html, x, y, cls) {
  const d = document.createElement('div');
  d.className = 't ' + (cls || '');
  d.innerHTML = html;
  d.style.left = x + 'px';
  d.style.top = y + 'px';
  page.appendChild(d);
  return d;
}

function swatch(x, y, w, h, fill, border) {
  const d = document.createElement('div');
  d.className = 'swatch';
  d.style.cssText = `left:${x}px;top:${y}px;width:${w}px;height:${h}px;background:${fill};box-sizing:border-box;` + (border ? `border:2px solid ${border};` : '');
  page.appendChild(d);
}

function hexRgb(h) { return [1, 3, 5].map((i) => parseInt(h.slice(i, i + 2), 16)); }

function ramp(stops, t) {
  const v = Math.min(Math.max(t, 0), 1) * (stops.length - 1);
  const i = Math.min(Math.floor(v), stops.length - 2);
  const a = hexRgb(stops[i]);
  const b = hexRgb(stops[i + 1]);
  const f = v - i;
  return [0, 1, 2].map((k) => Math.round(a[k] + (b[k] - a[k]) * f));
}

const viridisStops = ['#440154','#482878','#3e4989','#31688e','#26828e','#1f9e89','#35b779','#6ece58','#b5de2b','#fde725'];
const betaStops = ['#00008b','#18088f','#38089a','#7008a8','#8e0aa8','#a8209a','#bc3a88','#cc4a78','#d85a68','#e46a5c','#ee7a50','#f4844a','#f58a4a'];
const corrStops = ['#7fcdbb','#49b7c3','#35a3c0','#2489b8','#2269a9','#26479b','#253494','#1a2a78'];

function rgb(c, a) { return `rgba(${c[0]},${c[1]},${c[2]},${a === undefined ? 1 : a})`; }

function histogram(box, start, width, counts, xr, yr, xTicks, yTicks, fmtX, colorFn, edgeW, minLen) {
  const pxPerBin = width / (xr[1] - xr[0]) * (box.r - box.l);
  const bars = [];
  counts.forEach((n, i) => { if (n > 0) bars.push({ x: start + (i + 0.5) * width, y: n }); });
  panel(box, {
    type: 'bar',
    data: { datasets: [{
      data: bars,
      backgroundColor: colorFn,
      borderColor: '#000',
      borderWidth: edgeW,
      borderSkipped: false,
      minBarLength: minLen || 0,
      barPercentage: 1 + edgeW / pxPerBin,
      categoryPercentage: 1,
    }] },
    options: { scales: {
      x: axis(xr[0], xr[1], xTicks, fmtX),
      y: axis(yr[0], yr[1], yTicks, (v) => String(v)),
    } },
  });
}

// A
histogram({ l: 59, t: 44, r: 738, b: 168 }, betaBinStart, betaBinWidth, betaCounts,
  [0.07, 5.754], [0, 110.4], betaTicks, betaCountTicks, (v) => String(v),
  (c) => rgb(ramp(betaStops, (c.raw.x - betaBinStart) / betaBinWidth / 50)), 2.2, 3);

// B
function kinetics(box, t, u, color, xMax, showY) {
  panel(box, {
    type: 'line',
    data: { labels: t, datasets: [{ data: t.map((v, i) => ({ x: v, y: u[i] })), borderColor: color, borderWidth: 4, pointRadius: 0, cubicInterpolationMode: 'monotone', clip: 0 }] },
    options: { scales: {
      x: axis(0, xMax, [0, 5], (v) => String(v)),
      y: axis(0, 200, [0, 200], (v) => (showY ? String(v) : '')),
    } },
  }, 'lb', { yPad: 3 });
}

function phase(box, cloud, color, xMax, xTicks) {
  panel(box, {
    type: 'scatter',
    data: { datasets: [{ data: cloud.map((p) => ({ x: p[0], y: p[1] })), backgroundColor: color, borderWidth: 0, pointRadius: 3.4, clip: 0 }] },
    options: { scales: {
      x: axis(0, xMax, xTicks, (v) => String(v)),
      y: axis(0, 200, [0, 200], () => ''),
    } },
  }, 'lb');
}

kinetics({ l: 128, t: 220, r: 207, b: 276 }, time1, unspliced1, '#0a0a90', 5, true);
phase({ l: 223, t: 220, r: 303, b: 276 }, cloud1, 'rgba(12,12,145,0.36)', 120, [0, 100]);
kinetics({ l: 338, t: 220, r: 413, b: 276 }, time2, unspliced2, '#c8467f', 5, false);
phase({ l: 429, t: 220, r: 506, b: 276 }, cloud2, 'rgba(205,70,130,0.4)', 215, [0, 200]);
kinetics({ l: 549, t: 220, r: 630, b: 276 }, time3, unspliced3, '#f08244', 5, false);
phase({ l: 646, t: 220, r: 728, b: 276 }, cloud3, 'rgba(243,135,75,0.42)', 404, [0, 250]);

// C
panel({ l: 837, t: 44, r: 1134, b: 332 }, {
  type: 'scatter',
  data: { datasets: [
    { data: corrXTime.map((x, i) => ({ x, y: corrTime2[i] })), showLine: true, borderColor: '#2ca02c', borderWidth: 3, pointRadius: 0, cubicInterpolationMode: 'monotone', order: 0 },
    { data: corrXTime.map((x, i) => ({ x, y: corrTime1[i] })), showLine: true, borderColor: '#ff7f0e', borderWidth: 3.6, pointRadius: 0, cubicInterpolationMode: 'monotone', order: 1 },
    { data: corrXPair.map((x, i) => ({ x, y: corrPair[i] })), showLine: true, borderColor: '#1f77b4', borderWidth: 3, pointRadius: 0, cubicInterpolationMode: 'monotone', order: 2 },
  ] },
  options: { scales: {
    x: axis(0, 1, corrTicks, (v) => v.toFixed(1)),
    y: axis(0, 2.619, densityTicks, (v) => v.toFixed(1)),
  } },
});

// D
panel({ l: 61, t: 402, r: 359, b: 698 }, {
  type: 'bar',
  data: { labels: boxLabels, datasets: [
    { type: 'line', data: boxMedian, showLine: false, pointStyle: 'line', pointRadius: 19, pointBorderWidth: 3.2, pointBorderColor: '#3f3f3f', order: 0 },
    { data: boxQ1.map((v, i) => [v, boxQ3[i]]), backgroundColor: boxColors, borderColor: '#3f3f3f', borderWidth: 3.2, borderSkipped: false, barThickness: 38, grouped: false, order: 1 },
    { data: boxLow.map((v, i) => [v, boxQ1[i]]), backgroundColor: '#3f3f3f', barThickness: 3.2, grouped: false, order: 2 },
    { data: boxQ3.map((v, i) => [v, boxHigh[i]]), backgroundColor: '#3f3f3f', barThickness: 3.2, grouped: false, order: 2 },
    { type: 'line', data: boxLow, showLine: false, pointStyle: 'line', pointRadius: 10.5, pointBorderWidth: 3.2, pointBorderColor: '#3f3f3f', order: 0 },
    { type: 'line', data: boxHigh, showLine: false, pointStyle: 'line', pointRadius: 10.5, pointBorderWidth: 3.2, pointBorderColor: '#3f3f3f', order: 0 },
  ] },
  options: { scales: {
    x: { type: 'category', offset: true,
      grid: { offset: false, drawOnChartArea: false, drawTicks: true, tickLength: tickLen, tickWidth: lineW, tickColor: '#000' },
      border: { display: false },
      ticks: { padding: 7, autoSkip: false, maxRotation: 0, minRotation: 0, color: inkColor,
        callback(v) { const s = this.getLabelForValue(v); return s[0] === 't' ? '' : s; } } },
    y: axis(0.0067, 1.024, boxTicks, (v) => v.toFixed(1)),
  } },
});

// E
panel({ l: 437, t: 402, r: 735, b: 697 }, {
  type: 'scatter',
  data: { datasets: [
    { data: [{ x: 0, y: 0.992 }, { x: 2000, y: 0.992 }], showLine: true, borderColor: '#ff0000', borderWidth: 3, borderDash: [8, 48.7], borderDashOffset: 22.7, pointRadius: 0, order: 0 },
    { data: [{ x: 0, y: 0.985 }, { x: 2000, y: 0.985 }], showLine: true, borderColor: '#ff0000', borderWidth: 2.4, borderDash: [19.8, 8.5], pointRadius: 0, order: 1 },
    { data: [{ x: 0, y: 0.993 }, { x: 2000, y: 0.993 }], showLine: true, borderColor: '#ffa500', borderWidth: 3.4, borderDash: [48.2, 8.5], pointRadius: 0, order: 2 },
    { data: corrPoints.concat(corrPointsMore, corrPointsDense).map((p) => ({ x: p[0], y: p[1] })), borderWidth: 0, pointRadius: 3.1, clip: 0, order: 3,
      backgroundColor: (c) => rgb(ramp(corrStops, (c.raw.y - 0.27) / 0.72), 0.88) },
  ] },
  options: { scales: {
    x: axis(0, 2000, [0, 500, 1000, 1500, 2000], (v) => String(v)),
    y: axis(0.2, 1, [0.2, 0.4, 0.6, 0.8, 1], (v) => v.toFixed(1)),
  } },
});

// F
panel({ l: 836, t: 403, r: 1134, b: 698 }, {
  type: 'scatter',
  data: { datasets: [
    { data: identityX.map((x, i) => ({ x, y: identityY[i] })), showLine: true, borderColor: 'rgba(255,80,80,0.85)', borderWidth: 3.6, pointRadius: 0, order: 0 },
    { data: timePoints.map((p) => ({ x: p[0], y: p[1] })), backgroundColor: '#1f77b4', borderWidth: 0, pointRadius: 2.8, clip: 0, order: 1 },
  ] },
  options: { scales: {
    x: axis(0, 3.957, [0, 1, 2, 3], (v) => String(v)),
    y: axis(0, 4.69, [0, 1, 2, 3, 4], (v) => String(v)),
  } },
});

// G, H
histogram({ l: 62, t: 780, r: 359, b: 1002 }, cosTimeStart, cosTimeWidth, cosTimeCounts,
  [0.996638, 1.00005], [0, 16], cosTimeTicks, cosTimeCountTicks, (v) => v.toFixed(3), '#1f77b4', 2);
histogram({ l: 437, t: 780, r: 735, b: 1002 }, cosBetaStart, cosBetaWidth, cosBetaCounts,
  [0.973087, 0.979605], [0, 12], cosBetaTicks, cosBetaCountTicks, (v) => v.toFixed(3), '#1f77b4', 2);

// I
panel({ l: 800, t: 779, r: 1091, b: 1001 }, {
  type: 'scatter',
  data: { datasets: [
    ...streamlines.map((line) => ({ data: line.map((p) => ({ x: p[0], y: p[1] })), showLine: true, borderColor: '#000', borderWidth: 3, pointRadius: 0, tension: 0.35, clip: 0, order: 0 })),
    { data: arrowPoints.map((p) => ({ x: p[0], y: p[1] })), pointStyle: 'triangle', pointRadius: arrowSizes, rotation: arrowAngles, backgroundColor: '#000', borderWidth: 0, clip: 0, order: 0 },
    { data: umapX.map((x, i) => ({ x, y: umapY[i] })), pointRadius: 22, borderWidth: 0, clip: 0, order: 1,
      backgroundColor: (c) => rgb(ramp(viridisStops, umapT[c.dataIndex])) },
  ] },
  options: { scales: {
    x: { type: 'linear', display: false, min: 0, max: 291 },
    y: { type: 'linear', display: false, min: 0, max: 222 },
  } },
}, '');

// colorbar of I
panel({ l: 1092, t: 933, r: 1099, b: 1002 }, {
  type: 'bar',
  data: { labels: [''], datasets: [{
    data: [[0.03, 1.01]], barPercentage: 1, categoryPercentage: 1, borderWidth: 0,
    backgroundColor: (c) => {
      const area = c.chart.chartArea;
      if (!area) return '#000';
      const g = c.chart.ctx.createLinearGradient(0, area.bottom, 0, area.top);
      viridisStops.forEach((s, i) => g.addColorStop(i / (viridisStops.length - 1), s));
      return g;
    },
  }] },
  options: { scales: {
    x: { type: 'category', display: false },
    y: axis(0.03, 1.01, colorbarTicks, (v) => v.toFixed(1), { position: 'right' }),
  } },
}, undefined, { r: 56 });

// panel letters
[['A', 9, 10], ['B', 9, 199], ['C', 772, 11], ['D', 8, 386], ['E', 390, 386], ['F', 772, 386], ['G', 9, 749], ['H', 391, 749], ['I', 773, 749]]
  .forEach(([s, x, y]) => label(s, x, y, 'letter'));

// titles and axis labels
const tStar = (n) => `<i>t</i><sup>*, ${n}</sup>`;
const betaStar = (n) => `<i>&beta;</i><sup>*, ${n}</sup>`;
label('distribution of <i>&beta;</i>', 398, 22);
label('unspliced', 70, 253, 'rot');
[['time', 165], ['spliced', 258], ['time', 373], ['spliced', 468], ['time', 587], ['spliced', 683]]
  .forEach(([s, x]) => label(s, x, 322));
label('density', 772, 188, 'rot');
label('value of correlation', 986, 378);
label(tStar(1), 284, 723);
label(tStar(2), 334, 723);
label('rescaled time', 787, 550, 'rot');
label('real time', 985, 745);
label(`Corr(${tStar(1)},<i>t</i><sup>(<i>r</i>)</sup>)=0.9894`, 843, 449, 'left');
label(`cos(${tStar(1)}, ${tStar(2)})`, 210, 1054);
label(`cos(${betaStar(1)}, ${betaStar(2)})`, 586, 1054);

// legends
swatch(846, 60.5, 13, 3, '#1f77b4');
swatch(846, 81.5, 13, 3, '#ff7f0e');
swatch(846, 102.5, 13, 3, '#2ca02c');
label('gene-pair', 871, 63, 'left');
label(`gene-${tStar(1)}`, 871, 84, 'left');
label(`gene-${tStar(2)}`, 871, 105, 'left');
swatch(72, 414, 16, 14, '#3274a1', '#444');
swatch(72, 437, 16, 14, '#e1812c', '#444');
swatch(72, 460, 16, 14, '#3a923a', '#444');
label('gene-pair', 102, 421, 'left');
label(`gene-${tStar(1)}`, 102, 444, 'left');
label(`gene-${tStar(2)}`, 102, 467, 'left');

// arrows from A down to B
page.insertAdjacentHTML('beforeend', `
<svg width="1157" height="1070">
  <defs><marker id="head" viewBox="0 0 10 8" refX="10" refY="4" markerWidth="12" markerHeight="9" markerUnits="userSpaceOnUse" orient="auto">
    <path d="M0 0 L10 4 L0 8 L2.5 4 Z" fill="#000"/></marker></defs>
  <g stroke="#000" stroke-width="1" fill="none">
    <line x1="91" y1="169" x2="146" y2="221" marker-end="url(#head)"/>
    <line x1="198" y1="168" x2="319" y2="221" marker-end="url(#head)"/>
    <line x1="702" y1="168" x2="662" y2="220" marker-end="url(#head)"/>
  </g>
</svg>`);
</script>
</body>
</html>
